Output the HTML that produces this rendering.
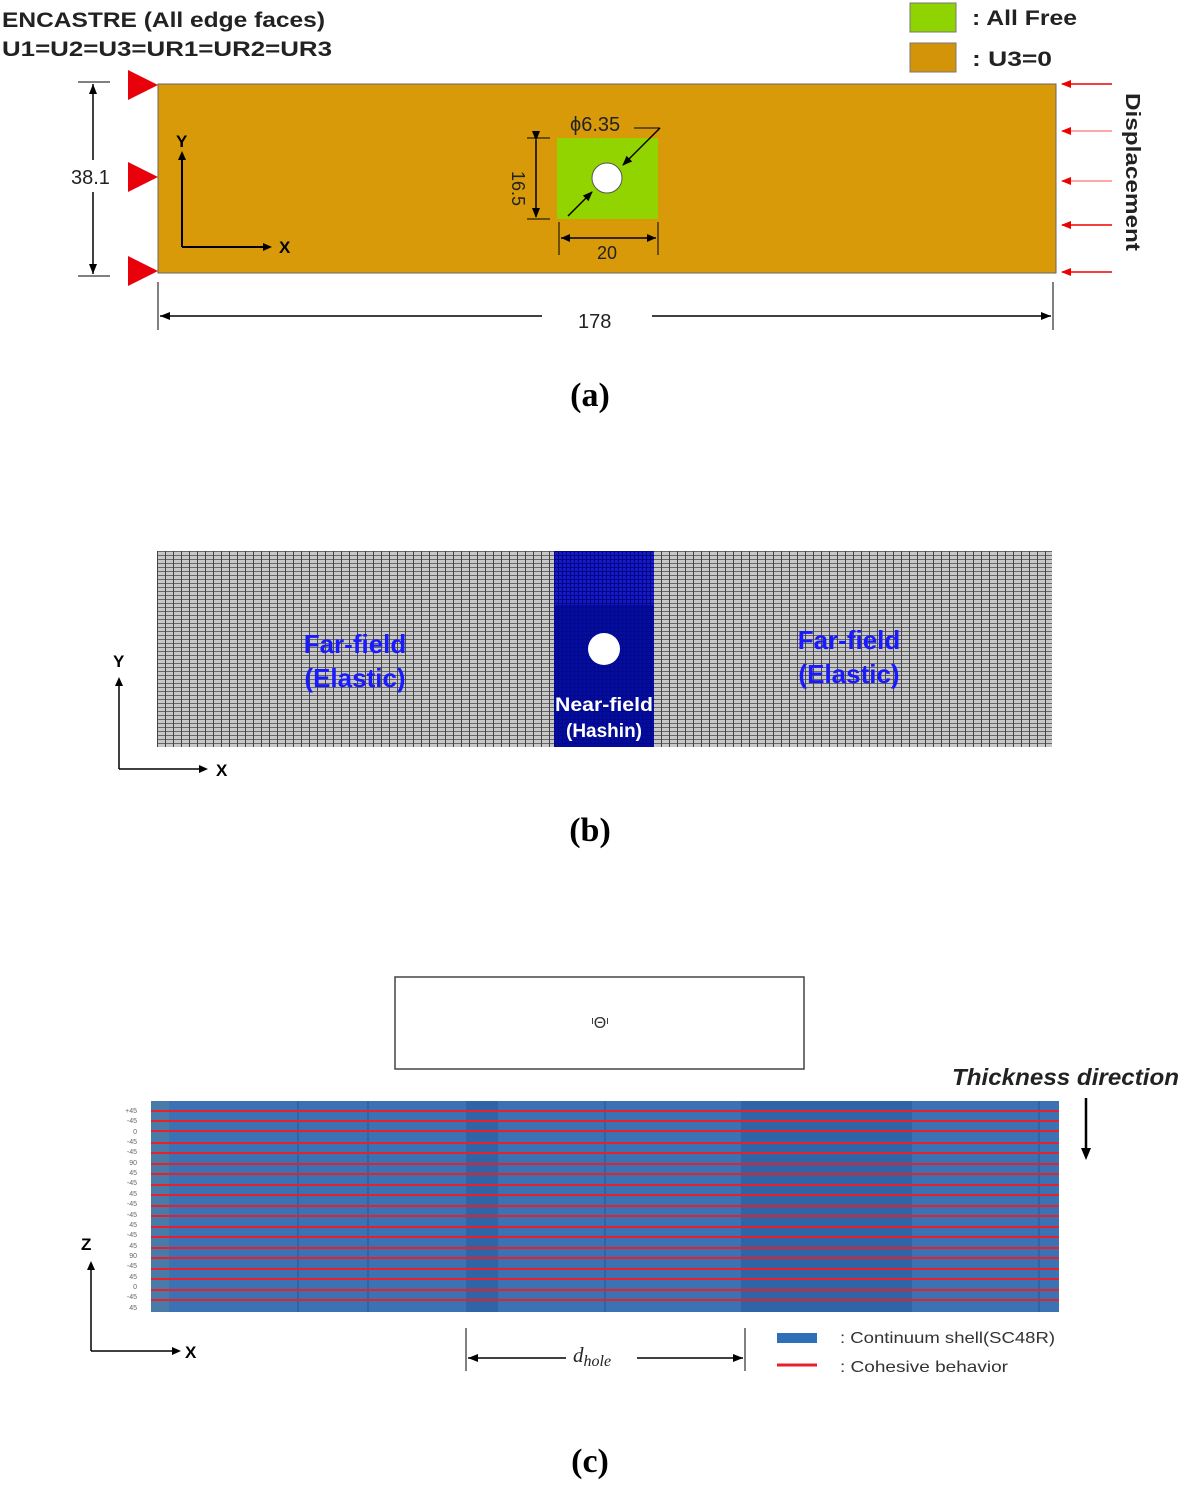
<!DOCTYPE html>
<html><head><meta charset="utf-8"><style>
html,body{margin:0;padding:0;background:#fff}
svg text{font-family:"Liberation Sans",sans-serif}
svg text.serif{font-family:"Liberation Serif",serif}
</style></head><body>
<svg width="1181" height="1481" viewBox="0 0 1181 1481" xmlns="http://www.w3.org/2000/svg">
<defs>
<pattern id="mesh" x="157" y="551" width="8" height="4" patternUnits="userSpaceOnUse">
<rect width="8" height="4" fill="#c8c8c8"/>
<rect width="8" height="1" fill="#666"/>
<rect width="1" height="4" fill="#444"/>
</pattern>
<pattern id="bmesh" x="554" y="551" width="4" height="4" patternUnits="userSpaceOnUse">
<rect width="4" height="4" fill="#1818c8"/>
<rect width="4" height="1" fill="#000880"/>
<rect width="1" height="4" fill="#000880"/>
</pattern>
<marker id="ar" markerWidth="10" markerHeight="8" refX="9" refY="4" orient="auto" markerUnits="userSpaceOnUse"><path d="M0,0 L10,4 L0,8Z" fill="#000"/></marker>
<marker id="arr" markerWidth="10" markerHeight="8" refX="9" refY="4" orient="auto" markerUnits="userSpaceOnUse"><path d="M0,0 L10,4 L0,8Z" fill="#e00"/></marker>
</defs>

<!-- (a) -->
<text x="2" y="27" font-size="21" font-weight="bold" fill="#222" textLength="323" lengthAdjust="spacingAndGlyphs">ENCASTRE  (All edge faces)</text>
<text x="2" y="56" font-size="21" font-weight="bold" fill="#222" textLength="330" lengthAdjust="spacingAndGlyphs">U1=U2=U3=UR1=UR2=UR3</text>
<rect x="910" y="3" width="46" height="29" fill="#8fd400" stroke="#777"/>
<text x="972" y="25" font-size="21" font-weight="bold" fill="#222" textLength="105" lengthAdjust="spacingAndGlyphs">: All Free</text>
<rect x="910" y="43" width="46" height="29" fill="#d4940a" stroke="#777"/>
<text x="972" y="66" font-size="21" font-weight="bold" fill="#222" textLength="80" lengthAdjust="spacingAndGlyphs">: U3=0</text>

<rect x="158" y="84" width="898" height="189" fill="#d89a08" stroke="#666"/>
<rect x="557" y="138" width="101" height="81" fill="#92d400"/>
<circle cx="607" cy="178" r="15" fill="#fff" stroke="#555"/>
<text x="570" y="131" font-size="20" fill="#222">ϕ6.35</text>
<line x1="634" y1="128" x2="660" y2="128" stroke="#000"/>
<line x1="660" y1="128" x2="623" y2="165" stroke="#000" stroke-width="1.5" marker-end="url(#ar)"/>
<line x1="568" y1="216" x2="592" y2="192" stroke="#000" stroke-width="1.5" marker-end="url(#ar)"/>
<line x1="527" y1="138" x2="550" y2="138" stroke="#000"/><line x1="527" y1="219" x2="550" y2="219" stroke="#000"/>
<line x1="536" y1="140" x2="536" y2="217" stroke="#000" stroke-width="1.5" marker-end="url(#ar)" marker-start="url(#ar)"/>
<text x="505" y="178" font-size="18" fill="#222" transform="rotate(90 512 178)">16.5</text>
<line x1="559" y1="222" x2="559" y2="255" stroke="#000"/><line x1="658" y1="222" x2="658" y2="255" stroke="#000"/>
<line x1="561" y1="238" x2="656" y2="238" stroke="#000" stroke-width="1.5"/>
<path d="M561,238 l9,-4 v8z M656,238 l-9,-4 v8z" fill="#000"/>
<text x="597" y="259" font-size="18" fill="#222">20</text>

<line x1="182" y1="155" x2="182" y2="247" stroke="#000" stroke-width="2"/>
<path d="M182,151 l-4,9 h8z" fill="#000"/>
<line x1="182" y1="247" x2="266" y2="247" stroke="#000" stroke-width="2"/>
<path d="M272,247 l-9,-4 v8z" fill="#000"/>
<text x="176" y="147" font-size="17" font-weight="bold">Y</text>
<text x="279" y="253" font-size="17" font-weight="bold">X</text>

<path d="M128,70 L158,85 L128,100Z M128,162 L158,177 L128,192Z M128,256 L158,271 L128,286Z" fill="#e8000a"/>
<line x1="78" y1="82" x2="110" y2="82" stroke="#000"/><line x1="78" y1="276" x2="110" y2="276" stroke="#000"/>
<line x1="93" y1="84" x2="93" y2="160" stroke="#000" stroke-width="1.5"/>
<line x1="93" y1="192" x2="93" y2="274" stroke="#000" stroke-width="1.5"/>
<path d="M93,84 l-4,10 h8z M93,274 l-4,-10 h8z" fill="#000"/>
<text x="71" y="184" font-size="20" fill="#222">38.1</text>

<line x1="158" y1="282" x2="158" y2="330" stroke="#000"/><line x1="1053" y1="282" x2="1053" y2="330" stroke="#000"/>
<line x1="160" y1="316" x2="542" y2="316" stroke="#000" stroke-width="1.5"/>
<line x1="652" y1="316" x2="1051" y2="316" stroke="#000" stroke-width="1.5"/>
<path d="M160,316 l10,-4 v8z M1051,316 l-10,-4 v8z" fill="#000"/>
<text x="578" y="328" font-size="20" fill="#222">178</text>

<g stroke="#e00" stroke-width="1.5">
<line x1="1112" y1="84" x2="1062" y2="84" marker-end="url(#arr)"/>
<line x1="1112" y1="131" x2="1062" y2="131" marker-end="url(#arr)" stroke="#f88"/>
<line x1="1112" y1="181" x2="1062" y2="181" marker-end="url(#arr)" stroke="#f88"/>
<line x1="1112" y1="225" x2="1062" y2="225" marker-end="url(#arr)"/>
<line x1="1112" y1="272" x2="1062" y2="272" marker-end="url(#arr)"/>
</g>
<text x="1126" y="93" font-size="20" font-weight="bold" fill="#222" transform="rotate(90 1126 93)" textLength="158" lengthAdjust="spacingAndGlyphs">Displacement</text>
<text class="serif" x="590" y="406" font-size="34" font-weight="bold" text-anchor="middle">(a)</text>

<!-- (b) -->
<rect x="157" y="551" width="895" height="196" fill="url(#mesh)"/>
<rect x="554" y="551" width="100" height="196" fill="url(#bmesh)"/>
<rect x="554" y="605" width="100" height="142" fill="#000a90" opacity="0.75"/>
<circle cx="604" cy="649" r="16" fill="#fff"/>
<text x="604" y="711" font-size="19" font-weight="bold" fill="#fff" text-anchor="middle" textLength="98" lengthAdjust="spacingAndGlyphs">Near-field</text>
<text x="604" y="737" font-size="19" font-weight="bold" fill="#fff" text-anchor="middle">(Hashin)</text>
<g font-size="26" font-weight="bold" fill="#1a1aff" text-anchor="middle">
<text x="355" y="653">Far-field</text><text x="355" y="687">(Elastic)</text>
<text x="849" y="649">Far-field</text><text x="849" y="683">(Elastic)</text>
</g>
<line x1="119" y1="683" x2="119" y2="769" stroke="#000" stroke-width="1.5"/>
<path d="M119,677 l-4,9 h8z" fill="#000"/>
<line x1="119" y1="769" x2="202" y2="769" stroke="#000" stroke-width="1.5"/>
<path d="M208,769 l-9,-4 v8z" fill="#000"/>
<text x="113" y="667" font-size="17" font-weight="bold">Y</text>
<text x="216" y="776" font-size="17" font-weight="bold">X</text>
<text class="serif" x="590" y="841" font-size="34" font-weight="bold" text-anchor="middle">(b)</text>

<!-- (c) -->
<rect x="395" y="977" width="409" height="92" fill="#fff" stroke="#444" stroke-width="1.5"/>
<text x="600" y="1028" font-size="16" text-anchor="middle" fill="#333">ᶦΘᶦ</text>
<text x="952" y="1085" font-size="23" font-weight="bold" font-style="italic" fill="#222" textLength="227" lengthAdjust="spacingAndGlyphs">Thickness direction</text>
<line x1="1086" y1="1098" x2="1086" y2="1150" stroke="#000" stroke-width="2.5"/>
<path d="M1086,1160 l-5,-12 h10z" fill="#000"/>

<rect x="151" y="1101" width="908" height="211" fill="#3a72b4"/>
<g fill="#2f64a6">
<rect x="151" y="1101" width="18" height="211" fill="#4a7aa8"/>
<rect x="297" y="1101" width="2" height="211"/><rect x="367" y="1101" width="2" height="211"/>
<rect x="466" y="1101" width="32" height="211"/><rect x="604" y="1101" width="2" height="211"/>
<rect x="741" y="1101" width="171" height="211"/><rect x="1038" y="1101" width="2" height="211"/>
</g>
<g stroke="#e8202a" stroke-width="2">
<line x1="151" y1="1111" x2="1059" y2="1111"/><line x1="151" y1="1121" x2="1059" y2="1121"/>
<line x1="151" y1="1131" x2="1059" y2="1131"/><line x1="151" y1="1143" x2="1059" y2="1143"/>
<line x1="151" y1="1153" x2="1059" y2="1153"/><line x1="151" y1="1164" x2="1059" y2="1164"/>
<line x1="151" y1="1174" x2="1059" y2="1174"/><line x1="151" y1="1185" x2="1059" y2="1185"/>
<line x1="151" y1="1195" x2="1059" y2="1195"/><line x1="151" y1="1206" x2="1059" y2="1206"/>
<line x1="151" y1="1216" x2="1059" y2="1216"/><line x1="151" y1="1227" x2="1059" y2="1227"/>
<line x1="151" y1="1237" x2="1059" y2="1237"/><line x1="151" y1="1248" x2="1059" y2="1248"/>
<line x1="151" y1="1258" x2="1059" y2="1258"/><line x1="151" y1="1269" x2="1059" y2="1269"/>
<line x1="151" y1="1279" x2="1059" y2="1279"/><line x1="151" y1="1290" x2="1059" y2="1290"/>
<line x1="151" y1="1300" x2="1059" y2="1300"/>
</g>
<g font-size="7" fill="#666" text-anchor="end">
<text x="137" y="1113">+45</text><text x="137" y="1123">-45</text><text x="137" y="1134">0</text><text x="137" y="1144">-45</text><text x="137" y="1154">-45</text><text x="137" y="1165">90</text><text x="137" y="1175">45</text><text x="137" y="1185">-45</text><text x="137" y="1196">45</text><text x="137" y="1206">-45</text><text x="137" y="1217">-45</text><text x="137" y="1227">45</text><text x="137" y="1237">-45</text><text x="137" y="1248">45</text><text x="137" y="1258">90</text><text x="137" y="1268">-45</text><text x="137" y="1279">45</text><text x="137" y="1289">0</text><text x="137" y="1299">-45</text><text x="137" y="1310">45</text>
</g>
<line x1="91" y1="1268" x2="91" y2="1351" stroke="#000" stroke-width="1.5"/>
<path d="M91,1261 l-4,9 h8z" fill="#000"/>
<line x1="91" y1="1351" x2="175" y2="1351" stroke="#000" stroke-width="1.5"/>
<path d="M181,1351 l-9,-4 v8z" fill="#000"/>
<text x="81" y="1250" font-size="17" font-weight="bold">Z</text>
<text x="185" y="1358" font-size="17" font-weight="bold">X</text>

<line x1="466" y1="1328" x2="466" y2="1371" stroke="#000"/><line x1="745" y1="1328" x2="745" y2="1371" stroke="#000"/>
<line x1="468" y1="1358" x2="566" y2="1358" stroke="#000" stroke-width="1.5"/>
<line x1="637" y1="1358" x2="743" y2="1358" stroke="#000" stroke-width="1.5"/>
<path d="M468,1358 l10,-4 v8z M743,1358 l-10,-4 v8z" fill="#000"/>
<text class="serif" x="573" y="1362" font-size="21" font-style="italic" fill="#222">d<tspan font-size="16" dy="4">hole</tspan></text>

<rect x="777" y="1333" width="40" height="10" fill="#2f6fb8"/>
<line x1="777" y1="1365" x2="817" y2="1365" stroke="#e8202a" stroke-width="3"/>
<text x="840" y="1343" font-size="16" fill="#333" textLength="215" lengthAdjust="spacingAndGlyphs">: Continuum shell(SC48R)</text>
<text x="840" y="1372" font-size="16" fill="#333" textLength="168" lengthAdjust="spacingAndGlyphs">: Cohesive behavior</text>
<text class="serif" x="590" y="1472" font-size="34" font-weight="bold" text-anchor="middle">(c)</text>
</svg>
</body></html>
